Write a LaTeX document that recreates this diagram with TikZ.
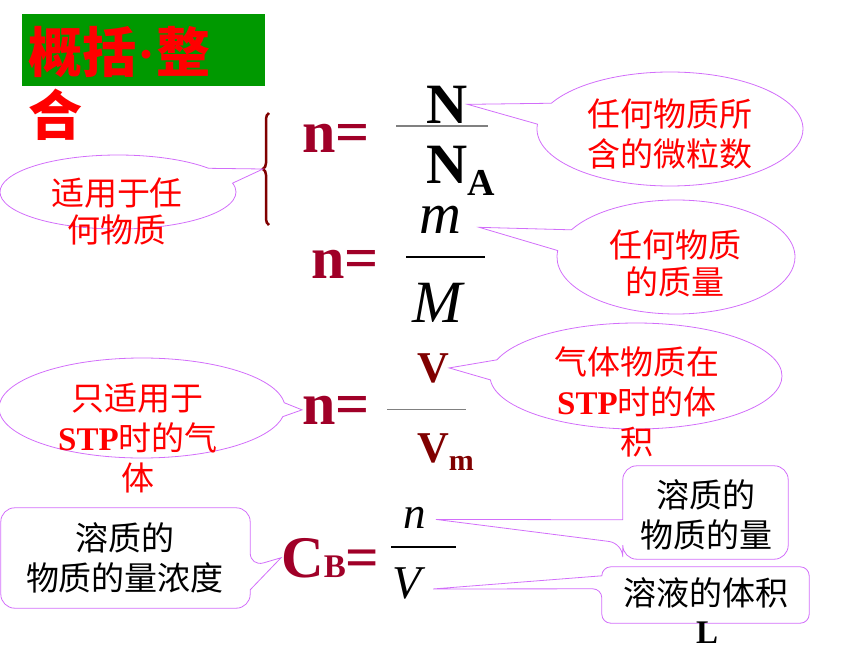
\documentclass[tikz,border=0pt]{standalone}
\usepackage{fontspec}
\setmainfont{Liberation Serif}
\newfontfamily\cjk{Noto Sans CJK SC}
\newcommand\latb[1]{{\rmfamily\bfseries #1}}
\usetikzlibrary{shapes.callouts,shapes.geometric,calc,decorations.pathreplacing}
\definecolor{vio}{RGB}{210,110,250}
\definecolor{dred}{RGB}{160,0,40}
\definecolor{brn}{RGB}{128,0,0}
\definecolor{grn}{RGB}{0,153,0}
\tikzset{
  bubble/.style={ellipse callout,draw=vio,line width=0.8pt,inner sep=0pt,callout pointer arc=22},
  boxline/.style={draw=vio,line width=0.8pt},
  redtxt/.style={text=red,inner sep=0pt,align=center,font=\cjk\fontsize{33}{40}\selectfont},
  blktxt/.style={text=black,inner sep=0pt,align=center,font=\cjk\fontsize{33}{40}\selectfont},
  frm/.style={inner sep=0pt,anchor=base west},
  fracbar/.style={line width=2.5pt,black},
  thinbar/.style={line width=1.2pt,gray},
}
\begin{document}
\begin{tikzpicture}[x=1pt,y=-1pt]
\useasboundingbox (0,0) rectangle (860,645);
% title
\fill[grn] (22,14) rectangle (265,86);
\node[inner sep=0pt,anchor=west,align=left,text=red,font=\cjk\bfseries\fontsize{54}{63}\selectfont] (title) at (28,83) {概括{\rmfamily\bfseries\hspace{1pt}·\hspace{1pt}}整\\合};
% formula 1
\node[frm,text=dred,font=\bfseries\fontsize{60}{60}\selectfont] (n1) at (302,152) {n=};
\node[frm,font=\bfseries\fontsize{57}{57}\selectfont] (N) at (426,123) {N};
\node[frm,font=\bfseries\fontsize{57}{57}\selectfont] (NA) at (426,183) {N\raisebox{-12pt}{\fontsize{38}{38}\selectfont A}};
\draw[thinbar] (396,126) -- (488,126);
% brace
\draw[brn,line width=2.5pt,decorate,decoration={brace,amplitude=6pt}] (269,225) -- coordinate[pos=0.5,xshift=-6pt] (bt) (269,113);
% formula 2
\node[frm,text=dred,font=\bfseries\fontsize{60}{60}\selectfont] (n2) at (311,278) {n=};
\node[frm,font=\itshape\fontsize{58}{58}\selectfont] (m) at (419,233) {m};
\node[frm,font=\itshape\fontsize{60}{60}\selectfont] (M) at (412,322) {M};
\draw[fracbar] (406,257) -- (485,257);
% formula 3
\node[frm,text=dred,font=\bfseries\fontsize{60}{60}\selectfont] (n3) at (302,424) {n=};
\node[frm,text=brn,font=\bfseries\fontsize{44}{44}\selectfont] (V) at (417,382) {V};
\node[frm,text=brn,font=\bfseries\fontsize{44}{44}\selectfont] (Vm) at (417,462) {V\raisebox{-8pt}{\fontsize{30}{30}\selectfont m}};
\draw[thinbar,line width=1pt] (387,409) -- (466,409);
% formula 4
\node[frm,text=dred,font=\bfseries\fontsize{59}{59}\selectfont] (CB) at (281,577) {C{\fontsize{33}{33}\selectfont B}=};
\node[frm,font=\itshape\fontsize{45}{45}\selectfont] (nn) at (403,528) {n};
\node[frm,font=\itshape\fontsize{47}{47}\selectfont] (VV) at (392,598) {V};
\draw[fracbar] (391,547) -- (456,547);
% ellipse callouts
\node[bubble,minimum width=266pt,minimum height=114pt,callout absolute pointer={(N.east)}] (e1) at (670,129) {};
\node[redtxt] (t1) at (670,134) {任何物质所\\含的微粒数};
\node[bubble,minimum width=236pt,minimum height=74pt,callout pointer arc=26,callout absolute pointer={(bt)}] (e0) at (118,192) {};
\node[redtxt,font=\cjk\fontsize{33}{37}\selectfont] (t0) at (117,211) {适用于任\\何物质};
\coordinate (mtip) at ($(m.east)+(18,8)$);
\node[bubble,minimum width=238pt,minimum height=114pt,callout absolute pointer={(mtip)}] (e2) at (676,257) {};
\node[redtxt,font=\cjk\fontsize{33}{37}\selectfont] (t2) at (675,263) {任何物质\\的质量};
\node[bubble,minimum width=286pt,minimum height=100pt,callout pointer arc=16,callout absolute pointer={(n3.west)}] (e3) at (142,408) {};
\node[redtxt] (t3) at (138,438) {只适用于\\\latb{STP}时的气\\体};
\node[bubble,minimum width=292pt,minimum height=106pt,callout absolute pointer={(V.east)}] (e4) at (636,376) {};
\node[redtxt] (t4) at (637,402) {气体物质在\\\latb{STP}时的体\\积};
% rectangle callouts
\node[inner sep=0pt,minimum width=249pt,minimum height=100pt] (A) at (125.5,558) {};
\draw[boxline,rounded corners=14pt] (A.north west) -- (A.north east) -- ($(A.north east)+(0,59)$) [sharp corners] -- (CB.west) -- ($(A.north east)+(0,82)$) [rounded corners=14pt] -- (A.south east) -- (A.south west) -- cycle;
\node[blktxt] (tA) at (125,558) {溶质的\\物质的量浓度};
\node[inner sep=0pt,minimum width=165pt,minimum height=93pt] (B) at (705.5,512.5) {};
\coordinate (tipB) at ($(nn.east)+(10,2)$);
\draw[boxline,rounded corners=14pt] (B.north east) -- (B.south east) -- (B.south west) -- ($(B.south west)+(0,-16)$) [sharp corners] -- (tipB) -- ($(B.north west)+(0,54)$) [rounded corners=14pt] -- (B.north west) -- cycle;
\node[blktxt] (tB) at (706,515) {溶质的\\物质的量};
\node[inner sep=0pt,minimum width=207pt,minimum height=56pt] (C) at (705.5,595) {};
\coordinate (tipC) at ($(VV.east)+(12,6)$);
\draw[boxline,rounded corners=9pt] (C.north east) -- (C.south east) -- (C.south west) -- ($(C.north west)+(0,22)$) [sharp corners] -- (tipC) -- ($(C.north west)+(0,9)$) [rounded corners=9pt] -- (C.north west) -- cycle;
\node[blktxt] (tC) at (705.5,593) {溶液的体积};
\node[frm,font=\bfseries\fontsize{33}{33}\selectfont] (L) at (696,643) {L};
\end{tikzpicture}
\end{document}
